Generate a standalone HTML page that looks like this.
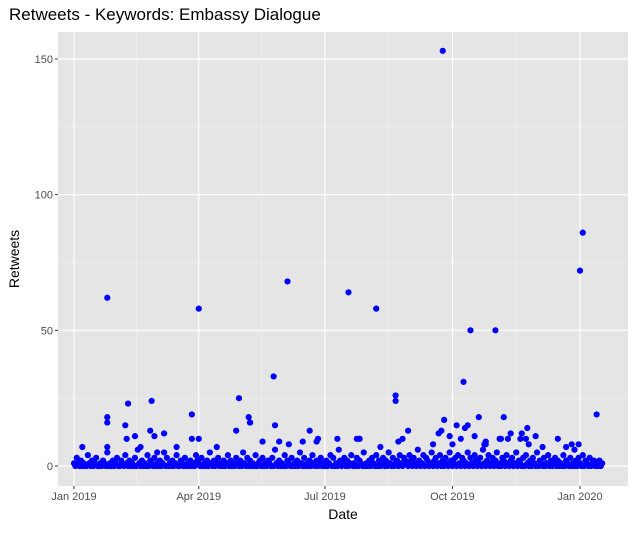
<!DOCTYPE html>
<html><head><meta charset="utf-8"><style>
body{margin:0;background:#fff;font-family:"Liberation Sans",sans-serif}
</style></head><body>
<svg id="chart" width="634" height="529" xmlns="http://www.w3.org/2000/svg" font-family="Liberation Sans, sans-serif">
<rect width="634" height="529" fill="#fff"/>
<text x="9" y="20" font-size="17" fill="#000">Retweets - Keywords: Embassy Dialogue</text>
<rect id="panel" x="58" y="32" width="570" height="454" fill="#e5e5e5"/>
<g id="grid"></g>
<g id="points"></g>
<g id="axes"></g>
<text x="343" y="519" font-size="14" text-anchor="middle">Date</text>
<text transform="translate(19,259) rotate(-90)" font-size="14" text-anchor="middle">Retweets</text>
</svg>
<script>
// days since 2019-01-01
const outlierDays=[24,39,56,85,90,119,126,144,154,198,218,232,232,266,267,281,286,304,310,365,367,377];
const outlierVals=[62,23,24,19,58,25,18,33,68,64,58,26,24,153,17,31,50,50,18,72,86,19];
const midDays=[24,24,37,55,58,65,85,38,44,6,24,48,74,103,60,90,127,127,145,117,170,176,204,271,263,165,175,190,206,206,234,155,148,221,237,241,136,265,276,282,279,289,297,297,296,308,315,313,327,326,333,349,364,259,273,284,292,307,322,323,338,328,359,355,361];
const midVals=[18,16,15,13,11,12,10,10,11,7,7,7,7,7,5,10,16,16,15,13,13,10,10,11,12,9,9,10,10,10,9,8,9,7,10,13,9,13,15,14,10,11,8,9,8,10,12,10,14,10,11,10,8,8,8,15,18,10,10,12,7,8,8,7,6];
const baseVals=[
1,0,3,1,0,2,0,1,0,0,4,1,0,2,0,1,3,0,0,1,
0,2,1,0,5,0,1,0,2,0,1,3,0,0,2,1,0,4,1,0,
2,0,1,0,3,0,6,1,0,2,0,1,0,4,0,2,1,0,3,0,
1,0,2,0,1,5,0,3,0,1,0,2,0,1,4,0,0,2,1,0,
3,0,1,0,2,0,1,0,4,2,1,0,3,0,1,0,2,0,5,1,
0,2,0,1,3,0,1,0,2,0,1,4,0,2,0,1,0,3,1,0,
2,0,5,1,0,3,0,2,0,1,0,4,0,1,2,0,3,0,1,0,
2,1,0,3,0,6,1,0,2,0,1,0,4,0,2,1,0,3,0,1,
0,2,0,5,1,0,3,0,1,0,2,0,4,1,0,2,0,1,3,0,
1,0,2,0,1,4,0,3,0,1,0,6,2,0,1,3,0,2,0,1,
4,0,1,0,3,0,2,1,0,5,0,1,0,2,0,3,1,0,4,0,
2,0,1,3,0,2,0,5,1,0,3,0,1,2,0,4,1,0,3,2,
1,0,4,2,0,3,1,0,6,2,0,1,4,0,3,2,0,1,5,0,
2,3,0,1,4,0,2,0,3,1,0,5,2,0,1,3,0,4,1,0,
3,2,0,1,5,0,3,1,0,4,2,0,1,3,0,6,1,0,2,4,
0,1,3,0,2,5,0,1,0,3,2,0,4,1,0,2,3,0,1,5,
0,2,1,0,3,0,4,1,0,2,0,3,1,0,5,0,2,1,0,3,
0,1,4,0,2,0,1,3,0,2,0,1,0,4,0,2,1,0,3,0,
1,0,2,0,3,1,0,4,0,2,1,0,3,0,1,2,0,1,0,2,
0,1];
const yTicks=[0,50,100,150];
const xTickDays=[0,90,181,273,365];
const xTickLabels=["Jan 2019","Apr 2019","Jul 2019","Oct 2019","Jan 2020"];

const L=58,R=628,T=32,B=486;
const xs=d=>74+d*(506/365);
const ys=v=>466-v*(407/150);
const NS="http://www.w3.org/2000/svg";
function mk(tag,attrs,parent){const e=document.createElementNS(NS,tag);for(const k in attrs)e.setAttribute(k,attrs[k]);parent.appendChild(e);return e;}
const grid=document.getElementById('grid'),pts=document.getElementById('points'),ax=document.getElementById('axes');
// minor grid
for(let i=0;i<yTicks.length-1;i++){const v=(yTicks[i]+yTicks[i+1])/2;const l=mk('line',{x1:L,x2:R,y1:ys(v),y2:ys(v),stroke:'#f2f2f2','stroke-width':0.6},grid);

}
{const l=mk('line',{x1:L,x2:R,y1:ys(175),y2:ys(175),stroke:'#f2f2f2','stroke-width':0.6},grid);}
for(let i=0;i<xTickDays.length-1;i++){const d=(xTickDays[i]+xTickDays[i+1])/2;const l=mk('line',{x1:xs(d),x2:xs(d),y1:T,y2:B,stroke:'#f2f2f2','stroke-width':0.6},grid);

}
yTicks.forEach(v=>{const l=mk('line',{x1:L,x2:R,y1:ys(v),y2:ys(v),stroke:'#fff','stroke-width':1.2},grid);


mk('line',{x1:L-3,x2:L,y1:ys(v),y2:ys(v),stroke:'#333','stroke-width':1},ax);
const t=mk('text',{x:L-5,y:ys(v)+4,'font-size':11,'text-anchor':'end',fill:'#4d4d4d'},ax);t.textContent=v;

});
xTickDays.forEach((d,i)=>{const l=mk('line',{x1:xs(d),x2:xs(d),y1:T,y2:B,stroke:'#fff','stroke-width':1.2},grid);


mk('line',{x1:xs(d),x2:xs(d),y1:B,y2:B+3,stroke:'#333','stroke-width':1},ax);
const t=mk('text',{x:xs(d),y:B+14,'font-size':11,'text-anchor':'middle',fill:'#4d4d4d'},ax);t.textContent=xTickLabels[i];

});
function pt(d,v){const c=mk('circle',{cx:xs(d),cy:ys(v),r:3.1,fill:'#0000ff'},pts);

}
baseVals.forEach((v,d)=>pt(d,v));
midDays.forEach((d,i)=>pt(d,midVals[i]));
outlierDays.forEach((d,i)=>pt(d,outlierVals[i]));
</script>
</body></html>
